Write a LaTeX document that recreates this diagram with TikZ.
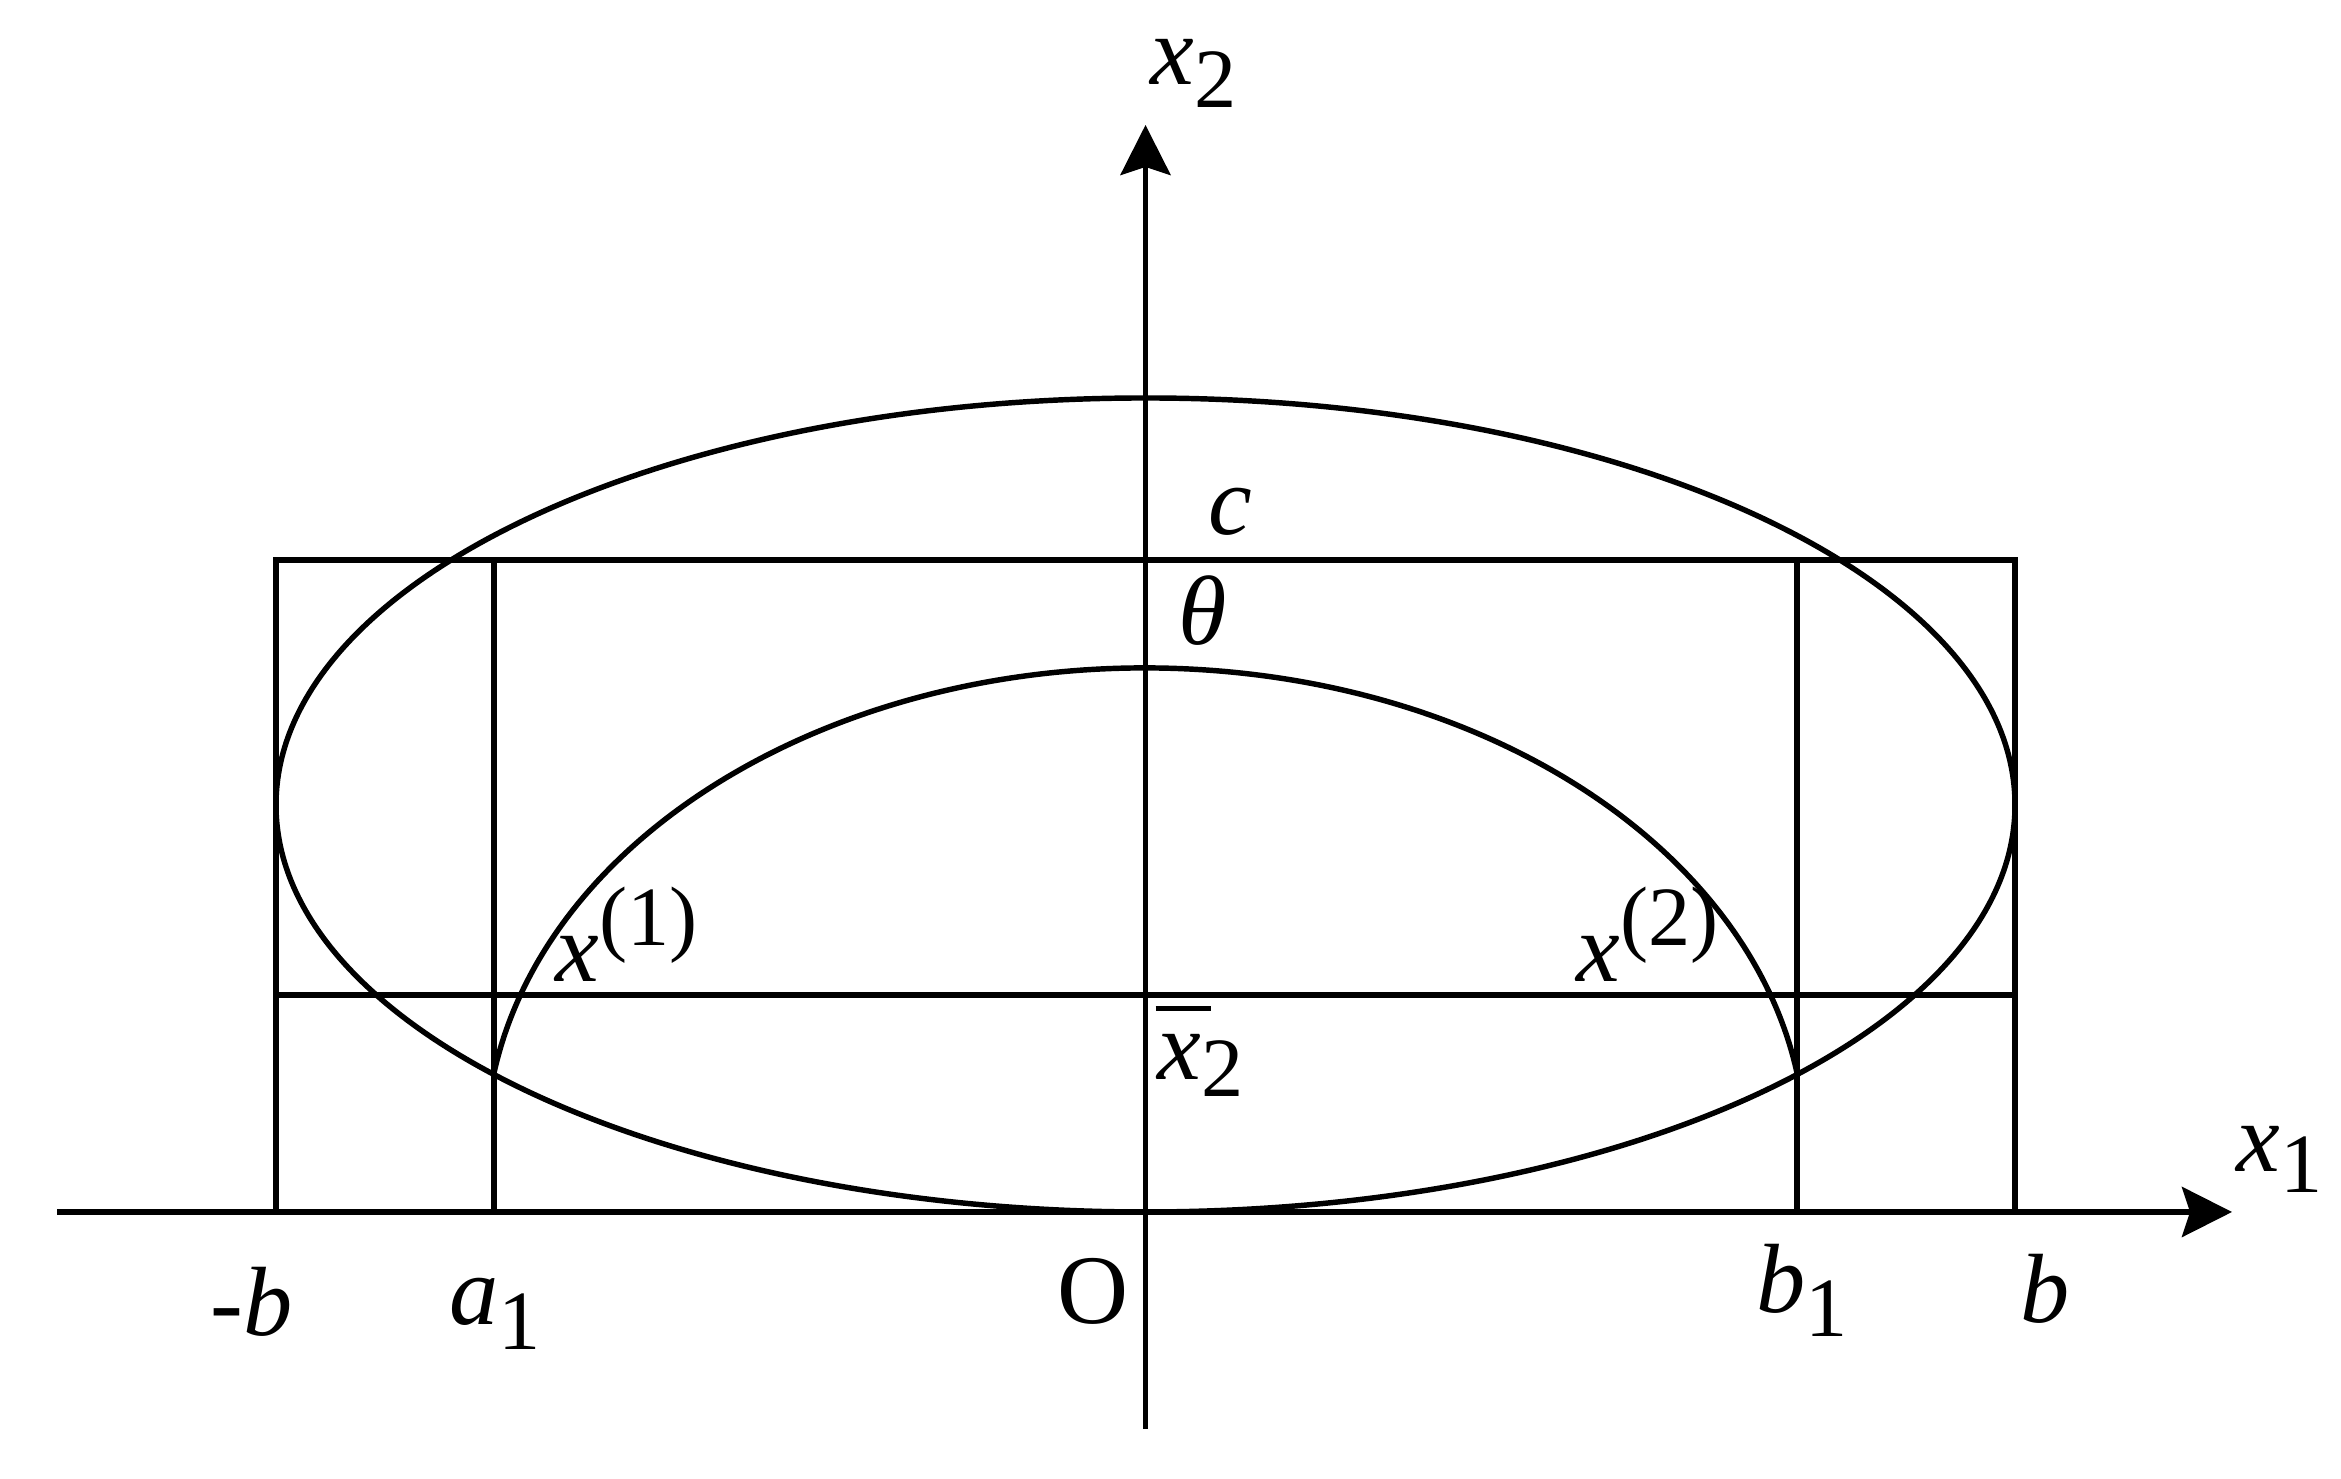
\documentclass[tikz,border=0pt]{standalone}
\usepackage{fontspec}
\setmainfont{Liberation Serif}[ItalicFont={Liberation Serif Italic},BoldFont={Liberation Serif Bold}]
\usetikzlibrary{arrows.meta}
\newcommand\lowsub[2]{\raisebox{#1}{\fontsize{24}{24}\selectfont #2}}
\begin{document}
\begin{tikzpicture}[
  ln/.style={line width=1.55pt},
  axisarrow/.style={ln,-{Stealth[length=0.5cm,width=0.5cm,inset=0.08cm]}},
  lbl/.style={inner sep=0pt,anchor=base west,font=\fontsize{28}{30}\selectfont}
]
\useasboundingbox (0,0) rectangle (23.41,14.79);
% key points
\coordinate (xl) at (0.57,2.67);
\coordinate (xr) at (22.32,2.67);
\coordinate (yb) at (11.455,0.50);
\coordinate (yt) at (11.455,13.54);
\coordinate (mbB) at (2.76,2.67);
\coordinate (mbT) at (2.76,9.19);
\coordinate (bB) at (20.15,2.67);
\coordinate (bT) at (20.15,9.19);
\coordinate (aB) at (4.94,2.67);
\coordinate (aT) at (4.94,9.19);
\coordinate (b1B) at (17.97,2.67);
\coordinate (b1T) at (17.97,9.19);
\coordinate (hL) at (2.76,4.84);
\coordinate (hR) at (20.15,4.84);
\coordinate (oc) at (11.455,6.74);
\coordinate (ic) at (11.455,3.29);
% axes
\draw[axisarrow] (xl) -- (xr);
\draw[axisarrow] (yb) -- (yt);
% rectangle and lines
\draw[ln] (mbB) -- (mbT) -- (bT) -- (bB);
\draw[ln] (aB) -- (aT);
\draw[ln] (b1B) -- (b1T);
\draw[ln] (hL) -- (hR);
% ellipses
\draw[ln] (oc) ellipse [x radius=8.695, y radius=4.07];
\draw[ln] ([shift={(171:6.6 and 4.82)}]ic) arc[start angle=171, end angle=9, x radius=6.6, y radius=4.82];
% labels
\node[lbl] (lx2) at (11.50,13.94) {\textit{x}\lowsub{-0.23cm}{2}};
\node[lbl] (lx1) at (22.36,3.07) {\textit{x}\lowsub{-0.21cm}{1}};
\node[lbl] (lc) at (12.08,9.44) {\textit{c}};
\node[lbl] (lth) at (11.78,8.34) {\textit{θ}};
\node[lbl] (lxb) at (11.57,3.99) {\makebox[0pt][l]{\hspace{-0.02cm}\raisebox{0.69cm}{\rule{0.55cm}{0.05cm}}}\textit{x}\lowsub{-0.17cm}{2}};
\node[lbl] (lx01) at (5.55,4.97) {\textit{x}\lowsub{0.36cm}{(1)}};
\node[lbl] (lx02) at (15.76,4.97) {\textit{x}\lowsub{0.36cm}{(2)}};
\node[lbl] (lmb) at (2.10,1.43) {-\textit{b}};
\node[lbl] (la1) at (4.49,1.54) {\textit{a}\lowsub{-0.25cm}{1}};
\node[lbl] (lO) at (10.57,1.55) {O};
\node[lbl] (lb1) at (17.56,1.66) {\textit{b}\lowsub{-0.24cm}{1}};
\node[lbl] (lb) at (20.20,1.56) {\textit{b}};
\end{tikzpicture}
\end{document}
